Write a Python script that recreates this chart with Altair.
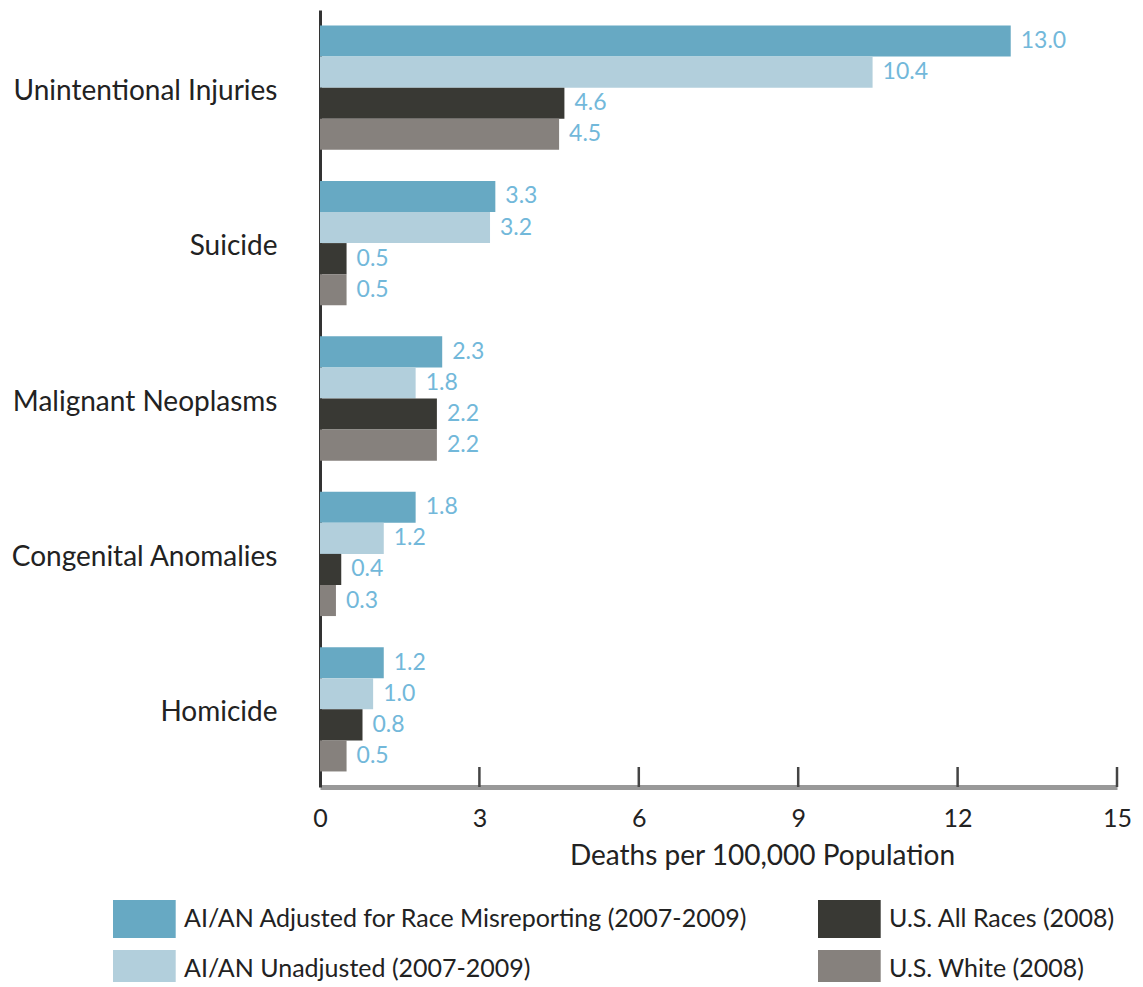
import altair as alt
import pandas as pd

categories = ["Unintentional Injuries", "Suicide", "Malignant Neoplasms",
              "Congenital Anomalies", "Homicide"]
series = ["AI/AN Adjusted for Race Misreporting (2007-2009)",
          "AI/AN Unadjusted (2007-2009)",
          "U.S. All Races (2008)",
          "U.S. White (2008)"]
adjusted = [13.0, 3.3, 2.3, 1.8, 1.2]
unadjusted = [10.4, 3.2, 1.8, 1.2, 1.0]
all_races = [4.6, 0.5, 2.2, 0.4, 0.8]
white = [4.5, 0.5, 2.2, 0.3, 0.5]
colors = ["#67a9c3", "#b2cfdc", "#393934", "#86817d"]
tick_values = [0, 3, 6, 9, 12, 15]

FONT = "Lato"

rows = []
for vals, s in zip([adjusted, unadjusted, all_races, white], series):
    for c, v in zip(categories, vals):
        rows.append({"category": c, "series": s, "value": v})
df = pd.DataFrame(rows)

y_enc = alt.Y("category:N", sort=categories,
              scale=alt.Scale(paddingInner=0.2, paddingOuter=0.1),
              axis=alt.Axis(title=None, ticks=False, domainColor="#333333",
                            domainWidth=3, labelFontSize=28, labelPadding=43,
                            labelOffset=4,
                            labelColor="#222222", labelLimit=400, labelFont=FONT))
yoff_enc = alt.YOffset("series:N", sort=series,
                       scale=alt.Scale(paddingInner=0, paddingOuter=0))
x_enc = alt.X("value:Q", scale=alt.Scale(domain=[0, 15], nice=False),
              axis=alt.Axis(values=tick_values, title="Deaths per 100,000 Population",
                            domainColor="#999999", domainWidth=5, ticks=False,
                            labelFontSize=25, labelPadding=19, labelColor="#222222",
                            labelFlush=False, labelFont=FONT, grid=False,
                            titleFontSize=28, titleFont=FONT, titleFontWeight="normal",
                            titleColor="#222222", titleX=442, titleY=69,
                            titleBaseline="middle"))

bars = alt.Chart(df).mark_bar().encode(
    y=y_enc,
    yOffset=yoff_enc,
    x=x_enc,
    color=alt.Color("series:N",
                    scale=alt.Scale(domain=series, range=colors),
                    legend=alt.Legend(orient="none", legendX=-207, legendY=890,
                                      columns=2, columnPadding=70, rowPadding=12,
                                      symbolType="M-1,-1H2.3V1H-1Z", symbolSize=1444,
                                      symbolStrokeWidth=0, symbolOpacity=1,
                                      labelFontSize=25, labelFont=FONT,
                                      labelColor="#222222", labelLimit=800,
                                      labelOffset=33, title=None, padding=0)),
)

labels = alt.Chart(df).mark_text(align="left", baseline="middle", dx=10,
                                 fontSize=23, font=FONT, color="#72b8da").encode(
    y=alt.Y("category:N", sort=categories),
    yOffset=yoff_enc,
    x=alt.X("value:Q"),
    text=alt.Text("value:Q", format=".1f"),
)

tick_df = pd.DataFrame({"t": tick_values[1:]})
ticks = alt.Chart(tick_df).mark_rule(color="#444444", strokeWidth=2.5).encode(
    x=alt.X("t:Q"),
    y=alt.value(757),
    y2=alt.value(777),
)

chart = alt.layer(bars, labels, ticks).properties(
    width=797, height=777,
    autosize=alt.AutoSizeParams(type="none"),
    padding={"left": 312, "top": 2, "right": 18, "bottom": 195},
).configure_view(stroke=None).configure_axis(grid=False)

chart.save("out.html", embed_options={"renderer": "svg", "actions": False})
